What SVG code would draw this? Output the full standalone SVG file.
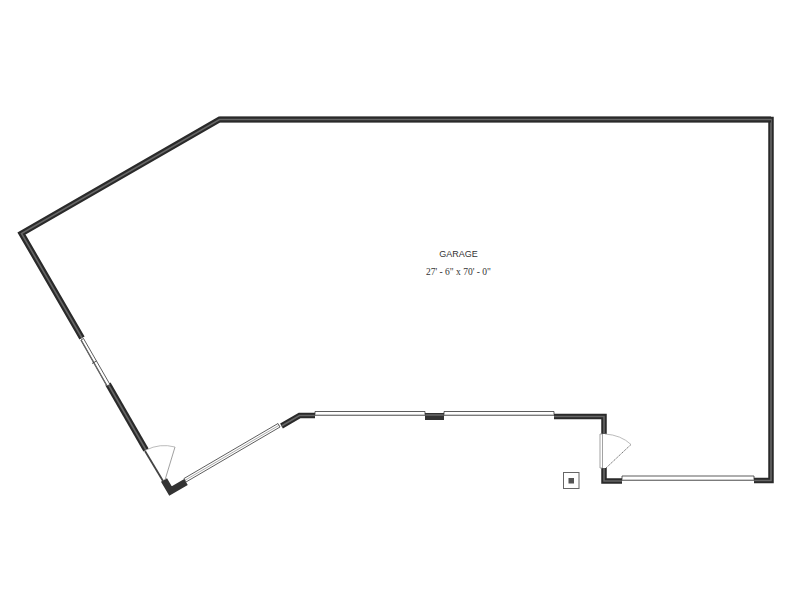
<svg xmlns="http://www.w3.org/2000/svg" width="792" height="612" viewBox="0 0 792 612">
<style>
.wo{fill:none;stroke:#2a2a2a;stroke-width:5.500;stroke-linejoin:miter;stroke-linecap:butt}
.wd{fill:none;stroke:#2a2a2a;stroke-width:6;stroke-linejoin:miter;stroke-linecap:butt}
.wi{fill:none;stroke:#666;stroke-width:1.600;stroke-linejoin:miter;stroke-linecap:butt}
.wn{fill:#fff;stroke:#333;stroke-width:.8}
.wb{fill:none;stroke:#999;stroke-width:1.200}
.arc{fill:none;stroke:#aaa;stroke-width:.8}
.leaf{fill:none;stroke:#555;stroke-width:.8}
.lbl{font-family:"Liberation Sans",Arial,sans-serif;font-size:9px;fill:#333;text-anchor:middle}
.dim{font-family:"Liberation Serif","Times New Roman",serif;font-size:9.500px;fill:#333;text-anchor:middle}
</style>
<rect width="792" height="612" fill="#fff"/>
<g id="walls">
<path class="wo" d="M754 480.500H771V119.500H219.500"/>
<path class="wi" d="M754 480.500H771V119.500H219.500"/>
<path class="wd" d="M771 119.500H219.500L21.500 233.500L82 338"/>
<path class="wi" d="M771 119.500H219.500L21.500 233.500L82 338"/>
<path class="wd" d="M108 384L146 450"/>
<path class="wi" d="M108 384L146 450"/>
<path class="wd" d="M164 480L170.500 491L186 482" style="stroke:#333;stroke-width:7"/>
<path class="wo" d="M281.500 426L299.500 415.500H315"/>
<path class="wi" d="M281.500 426L299.500 415.500H315"/>
<path class="wo" d="M425 416.500H444" style="stroke:#333;stroke-width:7"/>
<path class="wi" d="M425 415H444"/>
<path class="wo" d="M554 416.500H604V434"/>
<path class="wi" d="M554 416.500H604V434"/>
<path class="wo" d="M604 468V481H622"/>
<path class="wi" d="M604 468V481H622"/>
</g>
<g id="windows">
<path class="wn" d="M315 411.500H425V415.500H315Z"/>
<path class="wb" d="M315 415H425"/>
<path class="wn" d="M444 411.500H554V415.500H444Z"/>
<path class="wb" d="M444 415H554"/>
<path class="wn" d="M622 476H754V480.500H622Z"/>
<path class="wb" d="M622 480H754"/>
<path class="wn" d="M184 478.500L278 423.500L280 427L186 482Z"/>
<path d="M185 480.300L279 425.300" fill="none" stroke="#777" stroke-width=".6"/>
<path d="M81 340L83.500 338.500L110 384.500L107 386Z" fill="#fff" stroke="#333" stroke-width=".8"/>
<path d="M81 340L107 386" fill="none" stroke="#666" stroke-width="1.500"/>
<path d="M92 363.500L96.500 361" fill="none" stroke="#333" stroke-width=".8"/>
</g>
<g id="doors">
<path class="leaf" d="M145 451L163 481" style="stroke:#444;stroke-width:1.800"/>
<path class="leaf" d="M165 480L175 447" style="stroke:#888"/>
<path class="arc" d="M146 450Q160 443 175 447"/>
<path d="M600 434H602.500V468H600Z" fill="#fff" stroke="#999" stroke-width=".9"/>
<path class="leaf" d="M606 468L631 444.500" stroke-dasharray="1.500 .7"/>
<path class="arc" d="M605 434Q621 435 631 444.500"/>
</g>
<g id="post">
<rect x="563.500" y="472.500" width="15.500" height="16" fill="#fff" stroke="#666" stroke-width="1"/>
<rect x="568.500" y="478" width="5.500" height="5.500" fill="#555"/>
</g>
<g id="labels">
<text class="lbl" x="458.500" y="257">GARAGE</text>
<text class="dim" x="458.500" y="275">27' - 6" x 70' - 0"</text>
</g>
</svg>
